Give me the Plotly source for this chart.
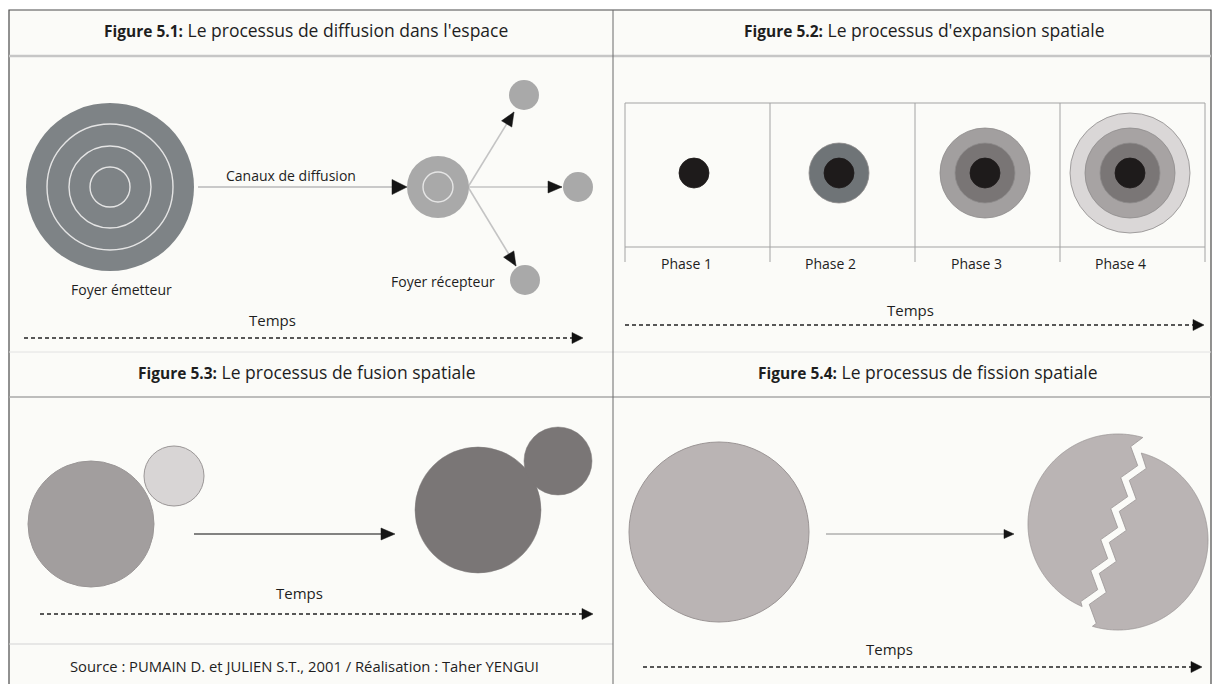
import numpy as np
import plotly.graph_objects as go

W, H = 1217, 684

# ---------------- content ----------------
TITLE_PREFIX = ["Figure 5.1:", "Figure 5.2:", "Figure 5.3:", "Figure 5.4:"]
TITLE_TEXT = ["Le processus de diffusion dans l'espace",
              "Le processus d'expansion spatiale",
              "Le processus de fusion spatiale",
              "Le processus de fission spatiale"]
TITLE_POS = [(306, 30), (924, 30), (307, 372), (928, 372)]
TIME_LABEL = "Temps"
TIME_LABEL_POS = [(272, 320), (910, 310), (299, 593), (889, 649)]
TIME_ARROWS = [((24, 338), (583, 338)), ((625, 325), (1204, 325)),
               ((40, 614), (593, 614)), ((643, 667), (1202, 667))]
SOURCE = "Source : PUMAIN D. et JULIEN S.T., 2001 / Réalisation : Taher YENGUI"
SOURCE_POS = (304, 666)

# Figure 5.1 - diffusion
P1_LABELS = ["Canaux de diffusion", "Foyer émetteur", "Foyer récepteur"]
P1_LABEL_POS = [(291, 175), (121, 289), (443, 281)]
EMITTER = (110, 187, 84)
EMITTER_RINGS = [20, 41, 63]
RECEPTOR = (438, 187, 31)
RECEPTOR_RINGS = [15]
TARGETS = [(524, 95, 15), (578, 187, 15), (525, 280, 15)]
TARGET_TIPS = [(514, 112), (562, 187), (516, 266)]

# Figure 5.2 - expansion
PHASES = ["Phase 1", "Phase 2", "Phase 3", "Phase 4"]
PHASE_LABEL_X = [686, 830, 976, 1120]
PHASE_CX = [694, 839, 985, 1130]
PHASE_CY = 173
PHASE_RADII = [[15], [30, 15], [45, 30, 15], [60, 45, 30, 15]]
PHASE_COLORS = [["#1e1b1b"],
                ["#6f7477", "#1e1b1b"],
                ["#a29f9f", "#797575", "#1e1b1b"],
                ["#dad7d7", "#a7a3a3", "#7a7676", "#1e1b1b"]]
PHASE_GRID_X = [625, 770, 915, 1060, 1205]

# Figure 5.3 - fusion
FUSION_BEFORE = [(91, 524, 63, "#a29e9e"), (174, 476, 30, "#d8d5d5")]
FUSION_AFTER = [(478, 510, 63, "#7a7676"), (558, 461, 34, "#7a7676")]

# Figure 5.4 - fission
FISSION_BEFORE = (719, 532, 90)
FISSION_LEFT_CENTER = (1118, 524)
FISSION_RIGHT_CENTER = (1118, 540)
FISSION_R = 90
CRACK_X = [1145, 1152, 1135, 1142, 1125, 1132, 1115, 1122, 1105, 1112,
           1095, 1102, 1085, 1092, 1075]
CRACK_Y = [417, 436, 448, 467, 479, 498, 510, 529, 541, 560,
           572, 591, 603, 622, 634]

# ---------------- helpers ----------------
shapes = []
annotations = []


def add_circle(cx, cy, r, fill, line_color=None, line_width=0):
    shapes.append(dict(type="circle", xref="x", yref="y",
                       x0=cx - r, x1=cx + r, y0=cy - r, y1=cy + r,
                       fillcolor=fill,
                       line=dict(color=line_color or fill, width=line_width)))


def add_ring(cx, cy, r, color, width):
    shapes.append(dict(type="circle", xref="x", yref="y",
                       x0=cx - r, x1=cx + r, y0=cy - r, y1=cy + r,
                       fillcolor="rgba(0,0,0,0)",
                       line=dict(color=color, width=width)))


def add_line(p0, p1, color, width, dash="solid"):
    shapes.append(dict(type="line", xref="x", yref="y",
                       x0=p0[0], y0=p0[1], x1=p1[0], y1=p1[1],
                       line=dict(color=color, width=width, dash=dash)))


def add_head(tip, frm, length, hw, color="#151515"):
    tx, ty = tip
    dx, dy = tx - frm[0], ty - frm[1]
    n = (dx * dx + dy * dy) ** 0.5
    ux, uy = dx / n, dy / n
    bx, by = tx - ux * length, ty - uy * length
    px, py = -uy, ux
    path = (f"M{tx:.2f},{ty:.2f} L{bx + px * hw:.2f},{by + py * hw:.2f} "
            f"L{bx - px * hw:.2f},{by - py * hw:.2f} Z")
    shapes.append(dict(type="path", xref="x", yref="y", path=path,
                       fillcolor=color, line=dict(color=color, width=0.5)))


def add_text(x, y, text, size, color="#222222", family="Open Sans"):
    annotations.append(dict(x=x, y=y, xref="x", yref="y", text=text,
                            showarrow=False, xanchor="center", yanchor="middle",
                            font=dict(size=size, color=color, family=family)))


def path_from(points):
    return "M" + " L".join(f"{x:.2f},{y:.2f}" for x, y in points) + " Z"


# ---------------- frame ----------------
BG = "#fbfbf8"
shapes.append(dict(type="rect", xref="x", yref="y", x0=9, x1=1211, y0=10, y1=700,
                   fillcolor=BG, line=dict(color="#4a4a4a", width=1.2)))
add_line((9, 56), (1211, 56), "#c6c6c6", 2.5)
add_line((9, 352), (1211, 352), "#e2e2e2", 1)
add_line((9, 397), (1211, 397), "#a9a9a9", 1.3)
add_line((9, 644), (613, 644), "#d4d4d4", 1.2)
add_line((613, 10), (613, 700), "#6a6a6a", 1)

# titles
for (x, y), pre, txt in zip(TITLE_POS, TITLE_PREFIX, TITLE_TEXT):
    add_text(x, y, f'<span style="font-size:15.5px"><b>{pre}</b></span> {txt}', 17.5, "#1e1e1e")

# time arrows
for (x, y) in TIME_LABEL_POS:
    add_text(x, y, TIME_LABEL, 15, "#1e1e1e")
for p0, p1 in TIME_ARROWS:
    add_line(p0, (p1[0] - 8, p1[1]), "#222222", 1.5, "4px,3px")
    add_head(p1, p0, 11, 5.5, "#111111")

# ---------------- Figure 5.1 ----------------
ex, ey, er = EMITTER
add_line((ex + er + 4, ey), (RECEPTOR[0] - RECEPTOR[2] - 12, ey), "#c9c9c9", 2)
add_head((RECEPTOR[0] - RECEPTOR[2], ey), (ex, ey), 15, 7.5)
add_circle(ex, ey, er, "#7e8386")
for r in EMITTER_RINGS:
    add_ring(ex, ey, r, "#e4e4e4", 1.4)
rx, ry, rr = RECEPTOR
for (tx, ty, tr), tip in zip(TARGETS, TARGET_TIPS):
    add_line((rx + rr - 1, ry), tip, "#c4c4c4", 1.6)
    add_head(tip, (rx + rr - 1, ry), 14, 6)
    add_circle(tx, ty, tr, "#a9a9a9")
add_circle(rx, ry, rr, "#a9a9a9")
for r in RECEPTOR_RINGS:
    add_ring(rx, ry, r, "#e6e6e6", 1.4)
for (x, y), t in zip(P1_LABEL_POS, P1_LABELS):
    add_text(x, y, t, 14, "#1e1e1e")

# ---------------- Figure 5.2 ----------------
add_line((625, 103), (1205, 103), "#a3a3a3", 1)
add_line((625, 247), (1205, 247), "#a3a3a3", 1)
for gx in PHASE_GRID_X:
    add_line((gx, 103), (gx, 262), "#a3a3a3", 1)
for cx, radii, cols in zip(PHASE_CX, PHASE_RADII, PHASE_COLORS):
    for r, c in zip(radii, cols):
        add_circle(cx, PHASE_CY, r, c, "#8e8b8b" if r > 15 else c, 0.8)
for x, t in zip(PHASE_LABEL_X, PHASES):
    add_text(x, 263, t, 14, "#1e1e1e")

# ---------------- Figure 5.3 ----------------
for cx, cy, r, c in FUSION_BEFORE:
    add_circle(cx, cy, r, c, "#9a9696", 1)
add_line((194, 534), (382, 534), "#5a5a5a", 1.5)
add_head((395, 534), (194, 534), 14, 6)
for cx, cy, r, c in FUSION_AFTER:
    add_circle(cx, cy, r, c, c, 0.5)
add_text(SOURCE_POS[0], SOURCE_POS[1], SOURCE, 14.8, "#1e1e1e")

# ---------------- Figure 5.4 ----------------
FIS = "#bab4b4"
FIS_LINE = "#9b9595"
fx, fy, fr = FISSION_BEFORE
add_circle(fx, fy, fr, FIS, FIS_LINE, 1)
add_line((826, 534), (1006, 534), "#8a8a8a", 1)
add_head((1014, 534), (826, 534), 10, 4.5)

cxs = np.array(CRACK_X, dtype=float)
cys = np.array(CRACK_Y, dtype=float)
order = np.argsort(cys)
ys_sorted, xs_sorted = cys[order], cxs[order]
# half-gap shift, perpendicular to the overall crack direction
d = np.array([xs_sorted[-1] - xs_sorted[0], ys_sorted[-1] - ys_sorted[0]])
d = d / np.linalg.norm(d)
normal = np.array([-d[1], d[0]])
if normal[0] > 0:
    normal = -normal  # points to the left piece
HALF_GAP = 4.5


def inside(px, py, c, r):
    return (px - c[0]) ** 2 + (py - c[1]) ** 2 < r * r


def piece(center, sign):
    sx, sy = normal * HALF_GAP * sign
    kx, ky = xs_sorted + sx, ys_sorted + sy
    if sign > 0:  # left piece
        th = np.linspace(0, 2 * np.pi, 721)
    else:
        th = np.linspace(-np.pi, np.pi, 721)
    px = center[0] + FISSION_R * np.cos(th)
    py = center[1] + FISSION_R * np.sin(th)
    cx_at = np.interp(py, ky, kx)
    keep = px < cx_at if sign > 0 else px > cx_at
    arc = [(a, b) for a, b, k in zip(px, py, keep) if k]
    pts = list(zip(kx, ky)) if sign > 0 else list(zip(kx[::-1], ky[::-1]))
    crack_pts = [(x, y) for x, y in pts if inside(x, y, center, FISSION_R)]
    return arc + crack_pts


for center, sign in ((FISSION_LEFT_CENTER, 1), (FISSION_RIGHT_CENTER, -1)):
    shapes.append(dict(type="path", xref="x", yref="y",
                       path=path_from(piece(center, sign)),
                       fillcolor=FIS, line=dict(color=FIS_LINE, width=0.8)))

# ---------------- figure ----------------
fig = go.Figure()
fig.add_trace(go.Scatter(x=[0, W], y=[0, H], mode="markers",
                         marker=dict(opacity=0), hoverinfo="skip", showlegend=False))
fig.update_layout(width=W, height=H, margin=dict(l=0, r=0, t=0, b=0),
                  paper_bgcolor="white", plot_bgcolor="white",
                  shapes=shapes, annotations=annotations, showlegend=False)
fig.update_xaxes(range=[0, W], visible=False, fixedrange=True)
fig.update_yaxes(range=[H, 0], visible=False, fixedrange=True)
fig.write_html("out.html", config={"displayModeBar": False},
               post_script="document.body.style.margin='0';document.body.style.overflow='hidden';")
